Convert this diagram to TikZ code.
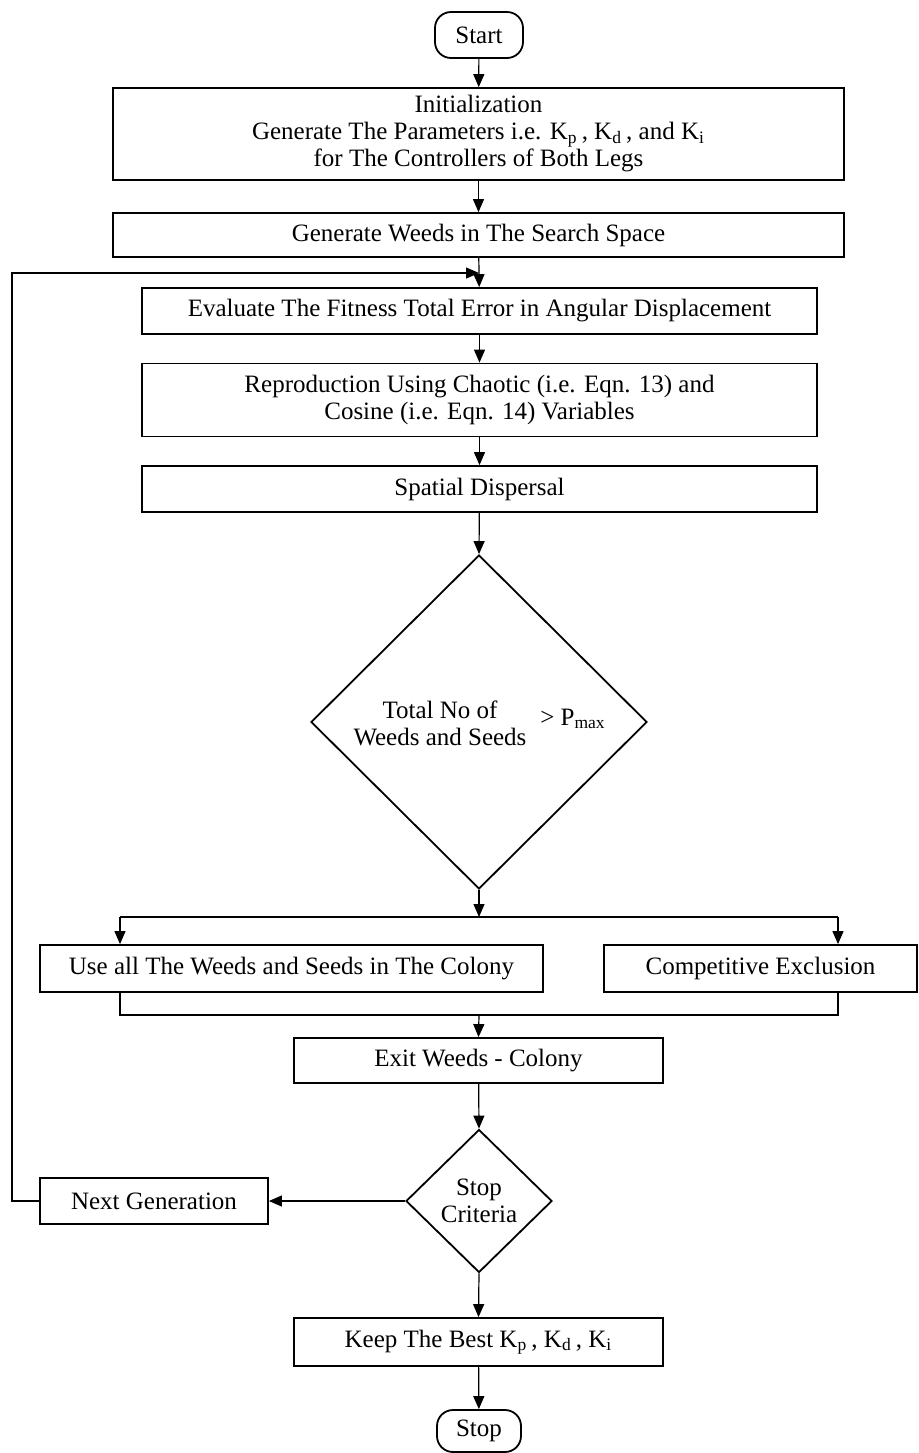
\documentclass[tikz,border=0pt]{standalone}
\usepackage{fontspec}
\setmainfont{Liberation Serif}
\usetikzlibrary{shapes.geometric,arrows.meta}
\begin{document}
\begin{tikzpicture}[x=0.5pt,y=-0.5pt,
  every node/.style={font=\fontsize{12.5}{13.5}\selectfont,align=center},
  box/.style={draw,line width=0.9pt,align=center,inner sep=0pt},
  term/.style={box,rounded corners=8pt},
  dia/.style={draw,line width=0.9pt,shape=diamond,inner sep=0pt,align=center},
  arr/.style={line width=0.6pt,-{Triangle[length=6.5pt,width=5.5pt]}},
  ln/.style={line width=0.6pt}]
\useasboundingbox (0,0) rectangle (918,1453);
\node[term,minimum width=44pt,minimum height=23pt] (start) at (479,35) {Start};
\node[box,minimum width=365.5pt,minimum height=46pt] (init) at (478.5,134)
  {Initialization\\Generate The Parameters i.e. K\textsubscript{p}\,, K\textsubscript{d}\,, and K\textsubscript{i}\\for The Controllers of Both Legs};
\node[box,minimum width=365.5pt,minimum height=22pt] (gen) at (478.5,235) {Generate Weeds in The Search Space};
\node[box,minimum width=337.5pt,minimum height=23pt] (eval) at (479.5,311) {Evaluate The Fitness Total Error in Angular Displacement};
\node[box,minimum width=337.5pt,minimum height=36.5pt] (repro) at (479.5,400) {Reproduction Using Chaotic (i.e. Eqn. 13) and\\Cosine (i.e. Eqn. 14) Variables};
\node[box,minimum width=337.5pt,minimum height=23pt] (spat) at (479.5,489) {Spatial Dispersal};
\node[dia,minimum width=168pt,minimum height=167pt] (d1) at (479,722) {};
\node (d1t) at (440,723) {Total No of\\Weeds and Seeds};
\node (d1p) at (573,719) {> P\textsubscript{max}};
\node[box,minimum width=251.5pt,minimum height=23.5pt] (use) at (291.5,968.5) {Use all The Weeds and Seeds in The Colony};
\node[box,minimum width=156.5pt,minimum height=23.5pt] (comp) at (760.5,968.5) {Competitive Exclusion};
\node[box,minimum width=184.5pt,minimum height=22.5pt] (exit) at (478.5,1060.5) {Exit Weeds - Colony};
\node[dia,minimum width=73pt,minimum height=71.5pt] (d2) at (479,1201) {Stop\\Criteria};
\node[box,minimum width=114pt,minimum height=23pt] (ng) at (154,1201) {Next Generation};
\node[box,minimum width=184.5pt,minimum height=24pt] (keep) at (478.5,1342) {Keep The Best K\textsubscript{p}\,, K\textsubscript{d}\,, K\textsubscript{i}};
\node[term,minimum width=42pt,minimum height=21pt] (stop) at (479,1431) {Stop};
\coordinate (jn) at (479,917);
\coordinate (bl) at (120,917);
\coordinate (br) at (838,917);
\coordinate (ml) at (120,1015);
\coordinate (mr) at (838,1015);
\coordinate (mj) at (479,1015);
\coordinate (fbb) at (12,1201);
\coordinate (fbt) at (12,273);
\coordinate (fbe) at (479,273);
\draw[arr] (start) -- (init);
\draw[arr] (init) -- (gen);
\draw[arr] (gen) -- (eval);
\draw[arr] (eval) -- (repro);
\draw[arr] (repro) -- (spat);
\draw[arr] (spat) -- (d1.north);
\draw[arr] (d1.south) -- (jn);
\draw[ln] (bl) -- (br);
\draw[arr] (bl) -- (bl |- use.north);
\draw[arr] (br) -- (br |- comp.north);
\draw[ln] (bl |- use.south) -- (ml) -- (mr) -- (mr |- comp.south);
\draw[arr] (mj) -- (exit.north);
\draw[arr] (exit) -- (d2.north);
\draw[arr] (d2.west) -- (ng.east);
\draw[arr] (d2.south) -- (keep.north);
\draw[arr] (keep) -- (stop);
\draw[arr] (ng.west) -- (fbb) -- (fbt) -- (fbe);
\end{tikzpicture}
\end{document}
